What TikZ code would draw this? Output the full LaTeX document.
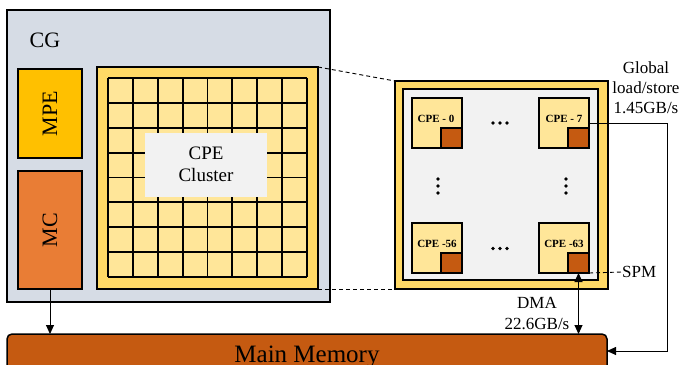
\documentclass[tikz,border=0pt]{standalone}
\usepackage{fontspec}
\setmainfont{Liberation Serif}
\usetikzlibrary{arrows.meta,calc}
\definecolor{cgbg}{HTML}{D6DCE5}
\definecolor{mpec}{HTML}{FFC000}
\definecolor{mcc}{HTML}{E97D35}
\definecolor{clo}{HTML}{FFD966}
\definecolor{cell}{HTML}{FFE699}
\definecolor{mem}{HTML}{C55A11}
\definecolor{lg}{HTML}{F2F2F2}
\tikzset{
  blk/.style={draw=black, line width=1.5pt, inner sep=0pt, outer sep=0pt},
  cpebox/.style={blk, fill=cell, minimum width=50pt, minimum height=50pt},
  spmbox/.style={blk, fill=mem, minimum width=21pt, minimum height=20pt},
  cpelbl/.style={font=\fontsize{11}{12}\selectfont\bfseries, inner sep=0pt},
  lbl/.style={font=\fontsize{17}{20}\selectfont, inner sep=0pt, align=center},
  tip/.style={-{Triangle[length=9pt,width=8pt]}, line width=0.9pt},
  dtip/.style={{Triangle[length=9pt,width=8pt]}-{Triangle[length=9pt,width=8pt]}, line width=0.9pt},
  dsh/.style={dashed, line width=0.9pt, dash pattern=on 4pt off 3pt},
  dotmark/.style={fill=black}
}
\begin{document}
\begin{tikzpicture}[x=1pt,y=-1pt]
\useasboundingbox (0,0) rectangle (685,364);
\begin{scope}
\clip (0,0) rectangle (685,364);
% CG
\node[blk, fill=cgbg, minimum width=323pt, minimum height=292pt] (cg) at (168.5,156) {};
\node[font=\fontsize{22}{22}\selectfont, inner sep=0pt] (cgl) at (45,40) {CG};
\node[blk, fill=mpec, minimum width=64pt, minimum height=89pt] (mpe) at (50,113.5) {};
\node[font=\fontsize{22}{22}\selectfont, rotate=90, inner sep=0pt] (mpel) at (mpe.center) {MPE};
\node[blk, fill=mcc, minimum width=64pt, minimum height=118pt] (mc) at (50,230) {};
\node[font=\fontsize{22}{22}\selectfont, rotate=90, inner sep=0pt] (mcl) at (mc.center) {MC};
% cluster
\node[blk, fill=clo, minimum width=221pt, minimum height=222pt] (cl) at (207.5,178) {};
\fill[cell] (108,78) rectangle (307,277);
\foreach \i in {0,...,8}{
  \draw[line width=1.8pt] ({108+\i*24.875},78) -- ({108+\i*24.875},277);
  \draw[line width=1.8pt] (108,{78+\i*24.875}) -- (307,{78+\i*24.875});
}
\node[fill=lg, minimum width=122pt, minimum height=64pt, inner sep=0pt] (cpecl) at (206,165) {};
\node[font=\fontsize{19}{22}\selectfont, align=center, inner sep=0pt] (cpecll) at (206,164) {CPE\\Cluster};
% main memory
\node[blk, fill=mem, rounded corners=5pt, minimum width=600pt, minimum height=56pt] (mm) at (307,362) {};
\node[font=\fontsize{25}{25}\selectfont, inner sep=0pt, anchor=base] (mml) at (307,362) {Main Memory};
\end{scope}
% expanded view
\node[blk, fill=clo, minimum width=213pt, minimum height=208pt] (big) at (501.5,185) {};
\node[blk, fill=lg, minimum width=195pt, minimum height=191pt] (inner) at (500.5,184.5) {};
\node[cpebox] (c0) at (437,123) {};
\node[cpebox] (c7) at (564,123) {};
\node[cpebox] (c56) at (437,248) {};
\node[cpebox] (c63) at (564,248) {};
\node[spmbox] (s0) at (451.5,138) {};
\node[spmbox] (s7) at (578.5,138) {};
\node[spmbox] (s56) at (451.5,263) {};
\node[spmbox] (s63) at (578.5,263) {};
\node[cpelbl] (l0) at (436,119) {CPE - 0};
\node[cpelbl] (l7) at (564,119) {CPE - 7};
\node[cpelbl] (l56) at (437,244) {CPE -56};
\node[cpelbl] (l63) at (564,244) {CPE -63};
% ellipsis dots
\foreach \d in {-7,0,7}{
  \fill[dotmark] ({500+\d},123) circle (1.9pt);
  \fill[dotmark] ({500+\d},248.5) circle (1.9pt);
  \fill[dotmark] (438,{186+\d}) circle (1.9pt);
  \fill[dotmark] (566,{186+\d}) circle (1.9pt);
}
% dashed zoom lines
\draw[dsh] (cl.north east) -- (big.north west);
\draw[dsh] (cl.south east) -- (big.south west);
% MC arrow
\draw[tip] (mc.south) -- (mc.south |- mm.north);
% DMA
\draw[dtip] (s63.south) -- (s63.south |- mm.north);
\node[lbl, anchor=base] (dma1) at (537,308) {DMA};
\node[lbl, anchor=base] (dma2) at (537,329) {22.6GB/s};
% SPM
\node[lbl, anchor=west] (spml) at (622,272) {SPM};
\draw[dsh] (s63.south east) -- (spml.west);
% global
\node[lbl, anchor=base] (g1) at (646,73) {Global};
\node[lbl, anchor=base] (g2) at (646,93) {load/store};
\node[lbl, anchor=base] (g3) at (646,113) {1.45GB/s};
\coordinate (gy) at (0,351);
\draw[tip] (c7.east) -- (667,123) -- (667,351) -- (mm.east |- gy);
\end{tikzpicture}
\end{document}
